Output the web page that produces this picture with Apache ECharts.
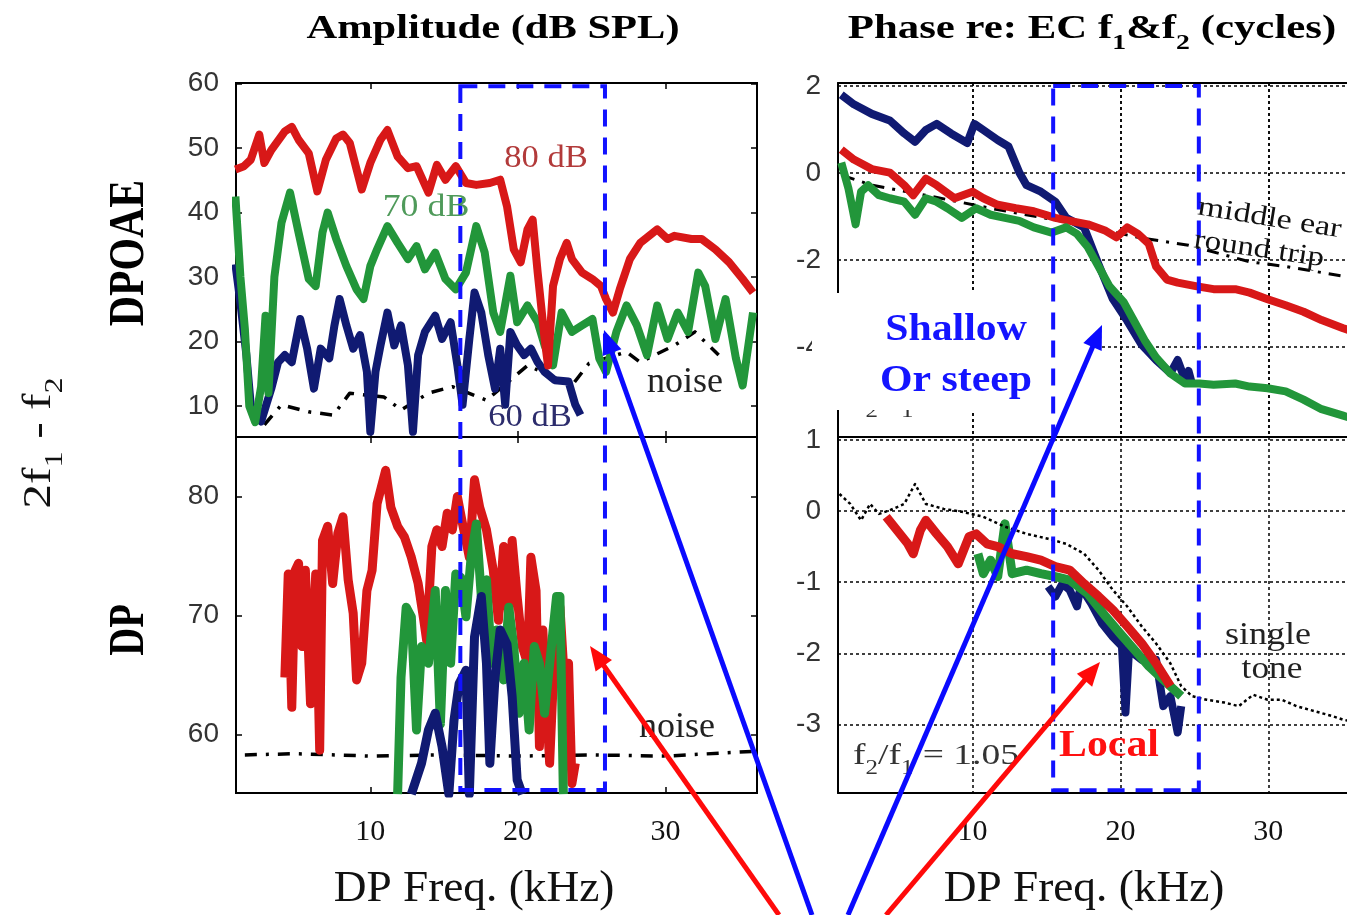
<!DOCTYPE html>
<html>
<head>
<meta charset="utf-8">
<script src="https://cdn.jsdelivr.net/npm/echarts@6/dist/echarts.min.js"></script>
<style>html,body{margin:0;padding:0;background:#fff}#c{width:1347px;height:915px}</style>
</head>
<body>
<div id="c"></div>
<script>
// ---------------- DATA ----------------
const xTicks = [10, 20, 30];
const ampTopTicks = [10, 20, 30, 40, 50, 60];
const ampBotTicks = [60, 70, 80];
const phTopTicks = [2, 0, -2, -4];
const phBotTicks = [1, 0, -1, -2, -3, -4];

// DPOAE amplitude (dB SPL) vs DP freq (kHz)
const dpoae80F = [0.86,1.44,1.90,2.48,2.82,3.29,4.21,4.68,5.14,5.83,6.41,6.99,7.69,8.15,8.61,9.42,10.0,10.69,11.16,11.85,12.55,13.13,13.94,14.51,15.09,15.79,16.48,17.18,18.10,18.80,19.26,19.72,20.19,20.65,21.00,21.34,21.81,22.04,22.38,22.85,23.31,23.66,24.35,25.05,25.63,25.97,26.44,26.90,27.59,28.29,29.44,30.14,30.60,31.76,32.45,33.38,34.31,35.23,35.93];
const dpoae80V = [46.7,47.2,48.2,52.1,47.7,49.7,52.6,53.3,51.3,49.2,43.3,48.2,51.5,52.1,50.8,43.6,47.7,51.3,52.8,48.7,46.9,47.2,43.1,47.4,45.1,47.2,44.6,44.3,44.6,45.1,41.0,34.3,32.3,37.4,38.9,30.7,20.4,16.3,28.6,32.8,35.3,32.8,30.7,29.7,28.6,26.6,24.5,28.1,32.8,35.3,37.4,35.9,36.4,35.9,35.9,34.3,32.3,29.7,27.6];

const dpoae70F = [0.86,1.2,1.5,1.8,2.2,2.6,2.9,3.1,3.5,3.98,4.56,5.14,5.83,6.30,6.76,7.11,7.69,8.38,9.07,9.54,10.0,10.46,11.16,11.85,12.55,13.13,13.70,14.40,15.09,15.79,16.48,17.18,17.75,18.33,18.80,19.49,19.95,20.65,21.34,21.81,22.38,22.96,23.66,24.35,25.05,25.51,25.97,26.67,27.36,28.06,28.75,29.44,30.14,30.83,31.53,32.22,32.69,33.38,34.07,34.77,35.23,35.93];
const dpoae70V = [42.5,30.0,22.0,10.0,7.5,13.0,24.0,12.0,30.0,38.4,43.1,36.9,29.7,28.6,36.9,40.0,35.9,31.7,28.1,26.6,31.7,34.3,37.9,35.3,32.8,34.8,31.2,33.8,29.7,28.1,30.7,37.9,33.8,24.5,21.5,30.2,23.0,25.6,23.0,19.4,16.3,24.5,21.5,22.5,23.5,17.4,15.3,21.5,25.6,22.5,17.9,25.6,20.4,24.5,21.5,30.7,28.6,20.4,26.6,17.4,13.2,24.5];

const dpoae60F = [0.86,1.2,1.6,1.9,2.6,3.29,3.75,4.21,4.68,5.25,5.72,6.18,6.64,7.22,7.57,7.92,8.38,8.84,9.31,9.77,10.0,10.35,10.69,11.16,11.62,12.08,12.55,12.89,13.24,13.70,14.40,14.86,15.44,15.90,16.25,16.71,17.06,17.52,17.99,18.45,18.80,19.14,19.49,19.95,20.42,20.88,21.34,21.81,22.5,23.43,23.89,24.24];
const dpoae60V = [32.0,26.0,18.0,10.2,7.6,12.7,16.8,17.9,16.8,23.5,18.9,12.7,18.9,17.4,22.5,26.6,22.5,18.9,21.0,15.3,6.0,15.3,19.4,24.5,19.4,22.5,16.3,6.0,17.9,21.5,24.0,20.4,23.0,16.3,10.2,20.4,27.6,24.5,17.9,12.7,18.9,10.2,21.5,19.4,17.9,18.9,16.8,15.3,14.0,13.8,10.2,8.6];

const dpoaeNoiseF = [2.82,3.98,5.83,7.5,8.61,10.93,12.08,13.94,15.56,17.87,20.65,23.66,24.81,27.36,28.29,30.6,32.0,33.6];
const dpoaeNoiseV = [7.1,10.2,9.1,8.6,12.0,11.4,9.4,12.0,13.0,10.9,16.3,13.2,16.6,18.4,16.8,19.4,21.5,17.9];

// DP (intracochlear) amplitude
const dp80F = [4.21,4.44,4.68,4.91,5.14,5.37,5.60,5.95,6.30,6.57,6.76,7.11,7.45,7.80,8.15,8.50,8.84,9.07,9.42,9.77,10.12,10.46,11.04,11.39,11.85,12.31,12.78,13.24,13.59,13.82,14.17,14.51,14.86,15.21,15.56,15.90,16.25,16.71,17.06,17.41,17.87,18.33,18.68,19.03,19.38,19.61,19.95,20.30,20.65,20.88,21.23,21.46,21.69,22.15,22.50,22.85,23.08,23.43,23.66,23.89];
const dp80V = [64.8,73.5,62.3,73.8,74.4,67.4,73.8,62.6,73.5,58.7,76.3,77.5,72.7,76.9,78.3,73.0,70.2,64.6,66.0,72.1,73.8,79.4,82.2,79.1,77.5,76.6,74.9,72.7,69.9,67.9,75.8,77.2,75.8,78.6,77.2,80.0,77.7,74.9,81.4,79.1,77.2,73.8,69.6,75.8,69.9,76.3,71.6,67.4,66.0,74.9,72.1,59.0,68.8,57.6,67.4,70.7,66.0,66.0,55.9,57.6];

const dp70F = [11.85,12.08,12.43,12.78,13.13,13.47,13.94,14.40,14.75,15.09,15.44,15.79,16.13,16.48,16.83,17.18,17.52,17.87,18.22,18.56,19.03,19.38,19.72,20.07,20.42,20.76,21.11,21.46,21.81,22.27,22.62,22.85,23.08];
const dp70V = [55.0,64.8,70.7,69.9,60.4,67.4,66.0,72.1,60.9,72.1,66.0,73.5,73.2,69.9,74.9,77.7,71.6,73.0,66.0,68.8,64.6,70.7,67.4,61.8,66.0,60.4,67.4,66.0,61.8,67.4,71.6,71.6,55.0];

const dp60F = [12.78,13.47,13.94,14.40,14.86,15.32,15.67,16.02,16.48,16.71,17.06,17.52,17.87,18.10,18.45,18.80,19.26,19.61,19.95,20.30];
const dp60V = [55.0,57.6,60.4,61.8,59.0,55.0,61.2,64.3,65.4,55.0,68.2,71.6,66.0,57.6,64.8,68.8,67.6,63.2,56.2,55.0];

const dpNoiseF = [1.5,5,10,15,20,25,30,36];
const dpNoiseV = [58.3,58.4,58.2,58.3,58.2,58.3,58.2,58.6];

// DPOAE phase (cycles)
const ph60F = [1.12,1.97,3.19,4.40,5.38,6.11,6.84,7.57,8.54,9.64,10.12,10.73,11.70,12.43,13.16,13.65,14.62,15.60,16.33,17.54,18.52,19.49,20.46,21.44,22.41,23.38,23.87,24.36,24.60,24.84];
const ph60V = [1.80,1.58,1.36,1.21,0.91,0.72,0.99,1.13,0.91,0.69,1.13,0.99,0.76,0.61,0.01,-0.28,-0.43,-0.66,-1.03,-1.25,-2.10,-2.90,-3.40,-3.95,-4.30,-4.60,-4.30,-4.75,-4.55,-4.85];

const ph80F = [1.12,1.97,3.19,4.40,5.38,5.99,6.84,7.57,8.78,10.0,10.73,11.70,12.92,14.14,15.60,16.57,17.79,19.00,19.73,20.46,21.19,21.92,22.41,23.14,23.87,25.09,26.30,27.76,28.73,29.95,31.17,32.38,33.60,35.06,36.2];
const ph80V = [0.54,0.31,0.09,0.01,-0.28,-0.51,-0.13,-0.28,-0.58,-0.43,-0.58,-0.73,-0.81,-0.88,-1.03,-1.10,-1.18,-1.33,-1.48,-1.25,-1.40,-1.63,-2.15,-2.45,-2.52,-2.60,-2.67,-2.67,-2.75,-2.90,-3.04,-3.19,-3.38,-3.57,-3.70];

const ph70F = [1.12,1.61,2.09,2.46,2.94,3.67,4.40,5.38,6.11,6.84,7.57,8.30,9.27,10.24,11.22,12.19,13.16,14.14,15.35,16.33,17.06,17.79,18.52,19.25,20.22,20.95,21.68,22.41,23.38,24.36,25.33,26.30,27.76,28.73,29.95,31.17,32.38,33.60,35.06,36.2];
const ph70V = [0.24,-0.36,-1.18,-0.43,-0.28,-0.51,-0.58,-0.66,-0.96,-0.58,-0.66,-0.81,-1.03,-0.81,-0.96,-1.03,-1.10,-1.25,-1.37,-1.25,-1.40,-1.70,-2.15,-2.60,-2.97,-3.42,-3.87,-4.24,-4.61,-4.84,-4.84,-4.87,-4.84,-4.91,-4.95,-5.02,-5.21,-5.43,-5.58,-5.70];

const middleEarF = [1.24,3.19,6.84,11.22,16.57,21.19,24.60,28.73,31.17,35.06];
const middleEarV = [-0.06,-0.28,-0.51,-0.81,-1.14,-1.48,-1.66,-2.04,-2.15,-2.37];

// DP phase (cycles)
const dpPh80F = [4.16,4.89,5.62,5.99,6.47,6.84,7.57,8.30,9.03,9.76,10.24,10.97,11.70,12.68,13.65,14.62,15.60,16.57,17.54,18.52,19.49,20.46,21.44,22.41,23.38];
const dpPh80V = [-0.08,-0.27,-0.46,-0.60,-0.27,-0.13,-0.32,-0.50,-0.74,-0.36,-0.32,-0.46,-0.50,-0.60,-0.64,-0.69,-0.78,-0.83,-1.02,-1.20,-1.39,-1.62,-1.86,-2.14,-2.46];

const dpPh70F = [10.36,10.73,11.22,11.70,12.19,12.68,13.65,14.62,15.60,16.57,17.79,19.00,19.98,20.95,21.92,22.90,23.63,24.11];
const dpPh70V = [-0.60,-0.88,-0.69,-0.92,-0.18,-0.88,-0.83,-0.88,-0.92,-0.97,-1.16,-1.48,-1.72,-1.95,-2.18,-2.37,-2.51,-2.60];

const dpPh60F = [15.11,15.60,16.08,16.57,17.06,17.30,18.03,18.76,19.49,20.10,20.34,20.58,21.44,22.41,22.90,23.38,23.87,24.11];
const dpPh60V = [-1.06,-1.20,-1.02,-1.11,-1.34,-1.06,-1.30,-1.58,-1.77,-1.90,-2.83,-1.95,-2.09,-2.09,-2.74,-2.60,-3.11,-2.74];

const singleToneF = [1.00,1.73,2.46,3.07,3.67,4.40,5.38,6.11,6.84,8.05,9.27,10.73,12.19,13.65,15.11,16.33,17.54,18.52,19.49,20.46,21.44,22.41,23.38,24.11,24.84,25.82,27.03,28.00,28.98,29.95,30.92,31.90,33.11,34.33,35.06,36.2];
const singleToneV = [0.24,0.10,-0.13,0.10,-0.04,0.01,0.10,0.38,0.10,0.03,-0.01,-0.08,-0.22,-0.32,-0.39,-0.46,-0.60,-0.83,-1.11,-1.34,-1.62,-1.86,-2.14,-2.46,-2.60,-2.65,-2.69,-2.74,-2.58,-2.65,-2.65,-2.74,-2.81,-2.88,-2.93,-2.98];

// annotation boxes (kHz ranges)
const boxAmpF = [16.1, 25.9];
const boxPhF = [15.45, 25.3];

// ---------------- CHART ----------------
const X_MIN = 0.9, X_MAX = 36.2;     // left (amplitude) panels
const X_MAX_R = 35.32;               // right (phase) panels are cut at the picture edge
const RED = '#d81818', GREEN = '#22963a', NAVY = '#101a72';
const SERIF = '"Liberation Serif", "Times New Roman", serif';
const SANS = '"Liberation Sans", Arial, sans-serif';

const zip = (F, V) => F.map((f, i) => [f, V[i]]);

const chart = echarts.init(document.getElementById('c'));

const frame = {show: true, borderColor: '#000', borderWidth: 2, backgroundColor: 'rgba(0,0,0,0)'};
const open = {show: false};
const axLine = {show: true, onZero: false, lineStyle: {color: '#000', width: 2}};
const noLine = {show: false, onZero: false};

function xAx(gi, pos, labels, dotted, max, line) {
  return {
    type: 'value', gridIndex: gi, position: pos, min: X_MIN, max: max,
    axisLine: line ? axLine : noLine,
    axisTick: {show: !dotted, inside: true, length: 6, lineStyle: {color: '#000', width: 1.5}, customValues: xTicks},
    axisLabel: {show: labels, customValues: xTicks, margin: 24, fontFamily: SERIF, fontSize: 30, color: '#111'},
    splitLine: {show: !!dotted, lineStyle: {color: '#000', width: 1.5, type: [3, 3]}}
  };
}
function yAx(gi, pos, min, max, ticks, labels, dotted, line) {
  return {
    type: 'value', gridIndex: gi, position: pos, min, max,
    axisLine: line ? axLine : noLine,
    axisTick: {show: !dotted, inside: true, length: 6, lineStyle: {color: '#000', width: 1.5}, customValues: ticks},
    axisLabel: {show: labels, customValues: ticks, margin: 17, fontFamily: SANS, fontSize: 28, color: '#333'},
    splitLine: {show: !!dotted, lineStyle: {color: '#000', width: 1.5, type: [3, 3]}}
  };
}
function ln(xi, yi, F, V, color, width, z, type) {
  return {
    type: 'line', xAxisIndex: xi, yAxisIndex: yi, data: zip(F, V),
    showSymbol: false, symbol: 'none', silent: true, z,
    lineStyle: {color, width, type: type || 'solid', join: 'round', cap: 'butt'},
    animation: false
  };
}

const option = {
  backgroundColor: '#ffffff',
  animation: false,
  grid: [
    Object.assign({left: 236, top: 83, width: 521, height: 354}, frame),
    Object.assign({left: 236, top: 437, width: 521, height: 356}, frame),
    Object.assign({left: 838, top: 83, width: 509, height: 354}, open),
    Object.assign({left: 838, top: 437, width: 509, height: 356}, open)
  ],
  xAxis: [
    xAx(0, 'bottom', false, false, X_MAX), xAx(0, 'top', false, false, X_MAX),
    xAx(1, 'bottom', true, false, X_MAX), xAx(1, 'top', false, false, X_MAX),
    xAx(2, 'bottom', false, true, X_MAX_R, true),
    xAx(3, 'bottom', true, true, X_MAX_R, true),
    xAx(2, 'top', false, true, X_MAX_R, true)
  ],
  yAxis: [
    yAx(0, 'left', 5.2, 60.1, ampTopTicks, true), yAx(0, 'right', 5.2, 60.1, ampTopTicks, false),
    yAx(1, 'left', 55.1, 85.0, ampBotTicks, true), yAx(1, 'right', 55.1, 85.0, ampBotTicks, false),
    yAx(2, 'left', -6.07, 2.07, phTopTicks, true, true, true),
    yAx(3, 'left', -3.96, 1.04, phBotTicks, true, true, true)
  ],
  series: [
    // DPOAE amplitude
    ln(0, 0, dpoaeNoiseF, dpoaeNoiseV, '#000', 3.5, 2, [12, 9, 3, 9]),
    ln(0, 0, dpoae60F, dpoae60V, NAVY, 8, 3),
    ln(0, 0, dpoae70F, dpoae70V, GREEN, 8, 4),
    ln(0, 0, dpoae80F, dpoae80V, RED, 8, 5),
    // DP amplitude
    ln(2, 2, dpNoiseF, dpNoiseV, '#000', 3.5, 2, [12, 9, 3, 9]),
    ln(2, 2, dp80F, dp80V, RED, 9, 3),
    ln(2, 2, dp70F, dp70V, GREEN, 9, 4),
    ln(2, 2, dp60F, dp60V, NAVY, 9, 5),
    // DPOAE phase
    ln(4, 4, middleEarF, middleEarV, '#000', 3, 2, [12, 8, 3, 8]),
    ln(4, 4, ph60F, ph60V, NAVY, 8, 3),
    ln(4, 4, ph80F, ph80V, RED, 8, 4),
    ln(4, 4, ph70F, ph70V, GREEN, 8, 5),
    // DP phase
    ln(5, 5, dpPh60F, dpPh60V, NAVY, 8, 3),
    ln(5, 5, dpPh70F, dpPh70V, GREEN, 9, 4),
    ln(5, 5, dpPh80F, dpPh80V, RED, 9, 5),
    ln(5, 5, singleToneF, singleToneV, '#000', 2.5, 6, [3, 3])
  ]
};
chart.setOption(option);

// ---------------- ANNOTATIONS ----------------
const px = (gi, pt) => chart.convertToPixel({gridIndex: gi}, pt);

function txt(x, y, text, o) {
  return {
    type: 'text', x, y, rotation: o.rot || 0, scaleX: o.sx || 1, scaleY: o.sy || 1, z: o.z || 120, silent: true,
    style: {text, fill: o.color || '#000', font: o.font, align: o.align || 'center', verticalAlign: o.va || 'middle', rich: o.rich}
  };
}
function subRich(size, weight, family, color) {
  const s = Math.round(size * 0.65);
  return {
    m: {fontSize: size, fontWeight: weight, fontFamily: family, fill: color, lineHeight: size + 6, verticalAlign: 'top'},
    s: {fontSize: s, fontWeight: weight, fontFamily: family, fill: color, lineHeight: s, verticalAlign: 'top', padding: [Math.round(3 + 0.5 * size), 0, 0, 0]}
  };
}
function arrow(x0, y0, x1, y1, color) {
  const dx = x1 - x0, dy = y1 - y0, L = Math.hypot(dx, dy);
  const ux = dx / L, uy = dy / L, hl = 24, hw = 10;
  const bx = x1 - ux * hl, by = y1 - uy * hl;
  return [
    {type: 'line', z: 130, silent: true, shape: {x1: x0, y1: y0, x2: bx + ux * 2, y2: by + uy * 2}, style: {stroke: color, lineWidth: 5}},
    {type: 'polygon', z: 130, silent: true, shape: {points: [[x1, y1], [bx - uy * hw, by + ux * hw], [bx + uy * hw, by - ux * hw]]}, style: {fill: color}}
  ];
}

const aTL = px(0, [boxAmpF[0], 59.6]), aBR = px(1, [boxAmpF[1], 55.35]);
const pTL = px(2, [boxPhF[0], 2.0]), pBR = px(3, [boxPhF[1], -3.92]);
const dashStyle = {fill: 'none', stroke: '#1212ff', lineWidth: 4, lineDash: [17, 11]};

const BLUE = '#0a0aff', ARED = '#ff0a0a';

const graphic = [
  // titles
  txt(493, 29, 'Amplitude (dB SPL)', {font: 'bold 34px ' + SERIF, sx: 1.25}),
  txt(1092, 32, '{m|Phase re: EC f}{s|1}{m|&f}{s|2}{m| (cycles)}', {sx: 1.26, rich: subRich(34, 'bold', SERIF, '#000')}),
  // row labels
  txt(42, 443, '{m|2f}{s|1}{m| - f}{s|2}', {rot: Math.PI / 2, sx: 1.24, rich: subRich(40, 'normal', SERIF, '#111')}),
  txt(130, 253, 'DPOAE', {font: 'bold 51px ' + SERIF, rot: Math.PI / 2, sx: 0.82}),
  txt(130, 630, 'DP', {font: 'bold 51px ' + SERIF, rot: Math.PI / 2, sx: 0.76}),
  // axis names
  txt(474, 889, 'DP Freq. (kHz)', {font: '44px ' + SERIF, sx: 1.03, color: '#111'}),
  txt(1084, 889, 'DP Freq. (kHz)', {font: '44px ' + SERIF, sx: 1.03, color: '#111'}),
  // in-plot labels
  txt(546, 159, '80 dB', {font: '32px ' + SERIF, sx: 1.08, color: '#b23a3a'}),
  txt(426, 208, '70 dB', {font: '32px ' + SERIF, sx: 1.12, color: '#4f9a5a'}),
  txt(530, 418, '60 dB', {font: '32px ' + SERIF, sx: 1.08, color: '#2c2c6c'}),
  txt(685, 383, 'noise', {font: '36px ' + SERIF, color: '#222'}),
  txt(677, 728, 'noise', {font: '36px ' + SERIF, color: '#222'}),
  txt(1198, 207, 'middle ear', {font: '28px ' + SERIF, sx: 1.22, rot: -0.16, align: 'left', color: '#111'}),
  txt(1194, 240, 'round trip', {font: '28px ' + SERIF, sx: 1.18, rot: -0.145, align: 'left', color: '#111'}),
  txt(1268, 636, 'single', {font: '31px ' + SERIF, sx: 1.16, color: '#222'}),
  txt(1272, 670, 'tone', {font: '31px ' + SERIF, sx: 1.14, color: '#222'}),
  txt(853, 759, '{m|f}{s|2}{m|/f}{s|1}{m| = 1.05}', {align: 'left', sx: 1.25, rich: subRich(30, 'normal', SERIF, '#333'), z: 105}),
  txt(853, 402, '{m|f}{s|2}{m|/f}{s|1}{m| = 1.05}', {align: 'left', sx: 1.25, rich: subRich(30, 'normal', SERIF, '#333'), z: 105}),
  // white box with "Shallow Or steep"
  {type: 'rect', z: 110, silent: true, shape: {x: 812, y: 293, width: 289, height: 117}, style: {fill: '#ffffff'}},
  txt(956, 330, 'Shallow', {font: 'bold 38px ' + SERIF, sx: 1.1, color: '#1414ff', z: 125}),
  txt(956, 381, 'Or steep', {font: 'bold 38px ' + SERIF, sx: 1.1, color: '#1414ff', z: 125}),
  txt(1109, 746, 'Local', {font: 'bold 38px ' + SERIF, sx: 1.1, color: '#ff1010', z: 125}),
  // dashed boxes
  {type: 'rect', z: 115, silent: true, shape: {x: aTL[0], y: aTL[1], width: aBR[0] - aTL[0], height: aBR[1] - aTL[1]}, style: dashStyle},
  {type: 'rect', z: 115, silent: true, shape: {x: pTL[0], y: pTL[1], width: pBR[0] - pTL[0], height: pBR[1] - pTL[1]}, style: dashStyle}
]
  .concat(arrow(812, 915, 604, 330, BLUE))
  .concat(arrow(779, 915, 590, 646, ARED))
  .concat(arrow(848, 915, 1102, 325, BLUE))
  .concat(arrow(886, 915, 1100, 662, ARED));

chart.setOption({graphic});
</script>
</body>
</html>
